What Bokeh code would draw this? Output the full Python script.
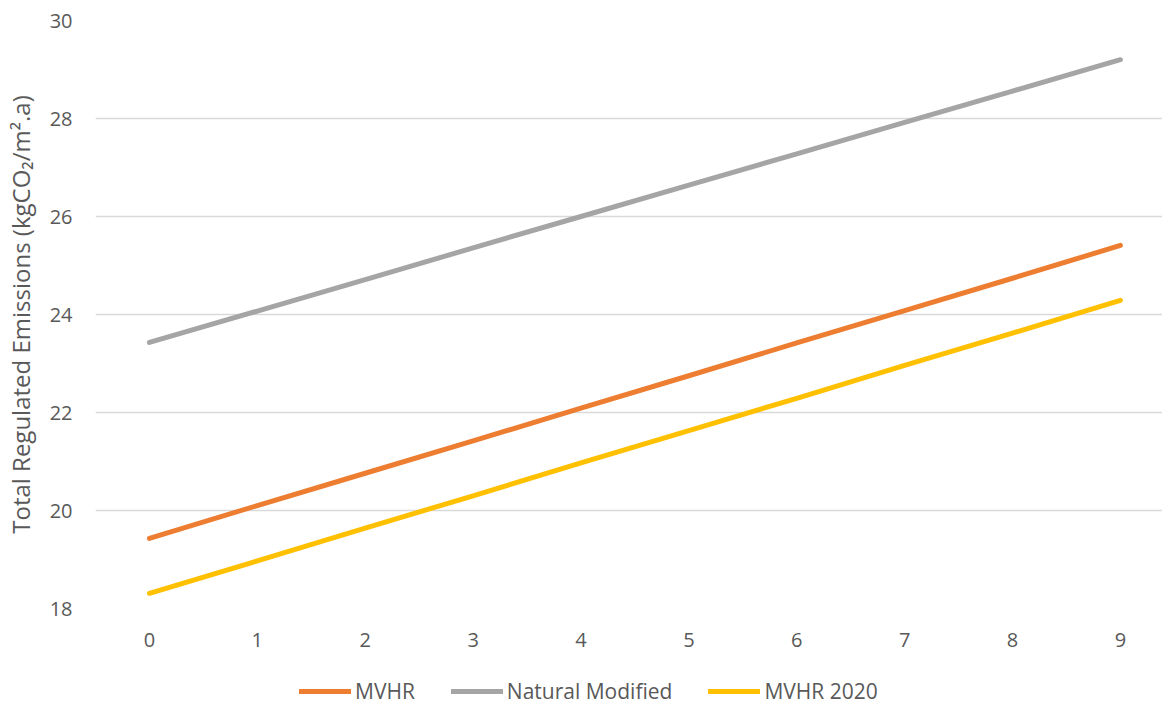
from bokeh.plotting import figure
from bokeh.layouts import column
from bokeh.models import Range1d, FixedTicker, Legend, LegendItem
from bokeh.embed import file_html
from bokeh.resources import INLINE

# ---- data ----
categories = [0, 1, 2, 3, 4, 5, 6, 7, 8, 9]
mvhr = [19.43, 20.10, 20.76, 21.42, 22.09, 22.75, 23.42, 24.08, 24.74, 25.41]
natural_modified = [23.43, 24.07, 24.71, 25.36, 26.00, 26.64, 27.28, 27.92, 28.56, 29.20]
mvhr_2020 = [18.31, 18.97, 19.64, 20.30, 20.97, 21.63, 22.29, 22.96, 23.62, 24.29]
y_ticks = [18, 20, 22, 24, 26, 28, 30]
series_names = ["MVHR", "Natural Modified", "MVHR 2020"]
y_title = "Total Regulated Emissions (kgCO\u2082/m\u00b2.a)"

FONT = "Open Sans"
TXT = "#595959"
colors = ["#ED7D31", "#A5A5A5", "#FFC000"]

p = figure(
    frame_width=1067, frame_height=588,
    x_range=Range1d(-0.5, 9.39), y_range=Range1d(18, 30),
    output_backend="svg", toolbar_location=None,
    min_border_left=93, min_border_right=0, min_border_top=20, min_border_bottom=52,
    background_fill_color="white", border_fill_color="white",
)
p.outline_line_color = None

p.xaxis.ticker = FixedTicker(ticks=categories)
p.yaxis.ticker = FixedTicker(ticks=y_ticks)
for ax in (p.xaxis[0], p.yaxis[0]):
    ax.axis_line_color = None
    ax.major_tick_line_color = None
    ax.minor_tick_line_color = None
    ax.major_tick_out = 0
    ax.major_tick_in = 0
    ax.major_label_text_font = FONT
    ax.major_label_text_font_size = "20px"
    ax.major_label_text_color = TXT
p.xaxis.major_label_standoff = 24
p.yaxis.major_label_standoff = 23
p.yaxis.axis_label = y_title
p.yaxis.axis_label_text_font = FONT
p.yaxis.axis_label_text_font_size = "24px"
p.yaxis.axis_label_text_font_style = "normal"
p.yaxis.axis_label_text_color = TXT
p.yaxis.axis_label_standoff = 10

p.xgrid.grid_line_color = None
p.ygrid.grid_line_color = "#D9D9D9"
p.ygrid.grid_line_width = 1.5
p.ygrid.ticker = FixedTicker(ticks=y_ticks)

series = [mvhr, natural_modified, mvhr_2020]
for vals, c in zip(series, colors):
    p.line(categories, vals, line_color=c, line_width=5, line_cap="round", line_join="round")

# legend strip below the chart (its series lie outside its range, only the legend shows)
lf = figure(width=1160, height=46, x_range=Range1d(0, 1), y_range=Range1d(0, 1),
            x_axis_location=None, y_axis_location=None, toolbar_location=None,
            output_backend="svg", min_border=0,
            background_fill_color="white", border_fill_color="white")
lf.outline_line_color = None
lf.xgrid.grid_line_color = None
lf.ygrid.grid_line_color = None
items = []
for name, vals, c in zip(series_names, series, colors):
    r = lf.line(categories, vals, line_color=c, line_width=5, line_cap="round")
    items.append(LegendItem(label=name, renderers=[r]))
legend = Legend(items=items, orientation="horizontal", location=(204, 1),
                border_line_color=None, background_fill_alpha=0,
                label_text_font=FONT, label_text_font_size="21px", label_text_color=TXT,
                glyph_width=52, glyph_height=20, label_standoff=4, spacing=36,
                padding=0, margin=0)
lf.add_layout(legend, "center")

layout = column(p, lf, spacing=0)
open("out.html", "w").write(file_html(layout, INLINE))
